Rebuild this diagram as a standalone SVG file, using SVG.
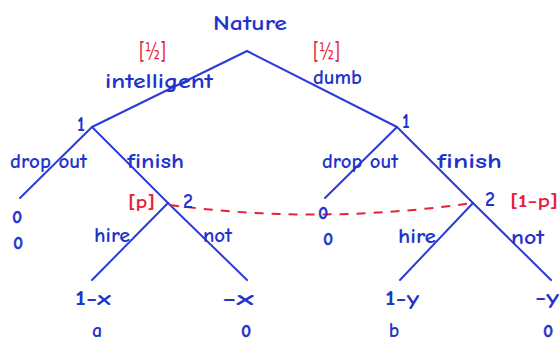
<svg xmlns="http://www.w3.org/2000/svg" width="560" height="342" viewBox="0 0 560 342">
<style>
.e{stroke:#2b3bd6;stroke-width:2;fill:none;stroke-linecap:round}
.t{font-family:"Comic Neue","DejaVu Sans",sans-serif;fill:#2233cc;font-size:20px;font-weight:700}
.z{font-family:"Comic Neue","DejaVu Sans",sans-serif;fill:#2233cc;font-size:17px;font-weight:700;stroke:#2233cc;stroke-width:0.6}
.r{font-family:"Comic Neue","DejaVu Sans",sans-serif;fill:#e8203a;font-size:18px;font-weight:700}
.f{font-family:"DejaVu Sans",sans-serif;fill:#e8203a;font-size:23px;font-weight:400}
.info{stroke:#e8203a;stroke-width:2;fill:none;stroke-dasharray:9 8}
</style>
<rect width="560" height="342" fill="#ffffff"/>
<g id="connectors">
<path class="e" d="M247,51 L92,127"/>
<path class="e" d="M247,51 L397,127"/>
<path class="e" d="M92,127 L20,198"/>
<path class="e" d="M92,127 L168,203"/>
<path class="e" d="M168,203 L92,280"/>
<path class="e" d="M168,203 L247,280"/>
<path class="e" d="M397,127 L325,198"/>
<path class="e" d="M397,127 L473,203"/>
<path class="e" d="M473,203 L400,280"/>
<path class="e" d="M473,203 L551,280"/>
<path class="info" d="M170,205 Q320,225 472,203"/>
</g>
<g id="nature">
<text class="t" x="213" y="30" textLength="74" lengthAdjust="spacingAndGlyphs">Nature</text>
</g>
<g id="prob-left">
<text class="f" x="139" y="59" textLength="27" lengthAdjust="spacingAndGlyphs">[½]</text>
</g>
<g id="prob-right">
<text class="f" x="313" y="59" textLength="27" lengthAdjust="spacingAndGlyphs">[½]</text>
</g>
<g id="edge-labels">
<text class="t" x="105" y="88" textLength="108" lengthAdjust="spacingAndGlyphs">intelligent</text>
<text class="t" x="313" y="84" textLength="49" lengthAdjust="spacingAndGlyphs">dumb</text>
<text class="t" x="10" y="168" textLength="77" lengthAdjust="spacingAndGlyphs">drop out</text>
<text class="t" x="127" y="168" textLength="57" lengthAdjust="spacingAndGlyphs">finish</text>
<text class="t" x="322" y="168" textLength="76" lengthAdjust="spacingAndGlyphs">drop out</text>
<text class="t" x="437" y="168" textLength="65" lengthAdjust="spacingAndGlyphs">finish</text>
<text class="t" x="94" y="242" textLength="36" lengthAdjust="spacingAndGlyphs">hire</text>
<text class="t" x="203" y="242" textLength="29" lengthAdjust="spacingAndGlyphs">not</text>
<text class="t" x="398" y="243" textLength="38" lengthAdjust="spacingAndGlyphs">hire</text>
<text class="t" x="511" y="244" textLength="33" lengthAdjust="spacingAndGlyphs">not</text>
</g>
<g id="node-1-left">
<text class="t" x="81" y="131" text-anchor="middle">1</text>
</g>
<g id="node-1-right">
<text class="t" x="406" y="128" text-anchor="middle">1</text>
</g>
<g id="node-2-left">
<text class="r" x="128" y="208" textLength="27" lengthAdjust="spacingAndGlyphs">[p]</text>
<text class="t" x="188" y="208" text-anchor="middle">2</text>
</g>
<g id="node-2-right">
<text class="t" x="490" y="206" text-anchor="middle">2</text>
<text class="r" x="510" y="207" textLength="48" lengthAdjust="spacingAndGlyphs">[1-p]</text>
</g>
<g id="payoff-dropout-left">
<text class="z" x="17" y="223" text-anchor="middle">0</text>
<text class="z" x="18" y="249" text-anchor="middle">0</text>
</g>
<g id="payoff-dropout-right">
<text class="z" x="323" y="219" text-anchor="middle">0</text>
<text class="z" x="328" y="245" text-anchor="middle">0</text>
</g>
<g id="payoff-hire-left">
<text class="t" x="75" y="305" textLength="36" lengthAdjust="spacingAndGlyphs">1-x</text>
<text class="t" x="97" y="337" text-anchor="middle">a</text>
</g>
<g id="payoff-not-left">
<text class="t" x="222" y="305" textLength="32" lengthAdjust="spacingAndGlyphs">-x</text>
<text class="z" x="246" y="337" text-anchor="middle">0</text>
</g>
<g id="payoff-hire-right">
<text class="t" x="385" y="305" textLength="34" lengthAdjust="spacingAndGlyphs">1-y</text>
<text class="t" x="394" y="337" text-anchor="middle">b</text>
</g>
<g id="payoff-not-right">
<text class="t" x="535" y="304" textLength="24" lengthAdjust="spacingAndGlyphs">-y</text>
<text class="z" x="548" y="337" text-anchor="middle">0</text>
</g>
</svg>
